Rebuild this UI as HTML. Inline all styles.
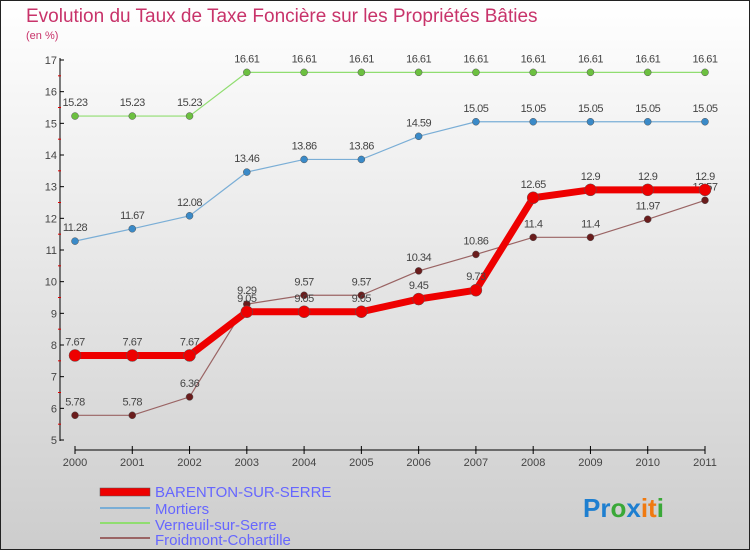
<!DOCTYPE html>
<html><head><meta charset="utf-8"><style>
body{margin:0}
#c{width:750px;height:550px;position:relative;overflow:hidden;font-family:"Liberation Sans",sans-serif}
svg text{font-family:"Liberation Sans",sans-serif}
</style></head><body>
<div id="c">
<svg id="s" width="750" height="550" xmlns="http://www.w3.org/2000/svg">
<defs><linearGradient id="bg" x1="0" y1="0" x2="0" y2="1"><stop offset="0" stop-color="#ffffff"/><stop offset="1" stop-color="#cdcdcd"/></linearGradient></defs>
<rect x="0.5" y="0.5" width="749" height="549" fill="url(#bg)" stroke="#222"/>
<text x="26" y="22" font-size="19" fill="#c8336a">Evolution du Taux de Taxe Foncière sur les Propriétés Bâties</text>
<text x="26" y="39" font-size="11" fill="#c8336a">(en %)</text>
<g id="axes"></g><g id="series"></g>
<g>
<rect x="100" y="488" width="50" height="8" fill="#e00" stroke="#555" stroke-width="0.5"/>
<text x="155" y="497" font-size="15" fill="#6666ff">BARENTON-SUR-SERRE</text>
<rect x="100" y="507" width="50" height="2" fill="#7aaed6"/>
<text x="155" y="514" font-size="15" fill="#6666ff">Mortiers</text>
<rect x="100" y="522" width="50" height="2" fill="#90dd70"/>
<text x="155" y="530" font-size="15" fill="#6666ff">Verneuil-sur-Serre</text>
<rect x="100" y="537" width="50" height="2" fill="#9a6464"/>
<text x="155" y="545" font-size="15" fill="#6666ff">Froidmont-Cohartille</text>
</g>
<text x="583" y="517" font-size="26" font-weight="bold"><tspan fill="#1e7fd0">Pr</tspan><tspan fill="#3aa838">o</tspan><tspan fill="#1e7fd0">x</tspan><tspan fill="#f07a10">it</tspan><tspan fill="#3aa838">i</tspan></text>
</svg></div>
<script>
const years=["2000","2001","2002","2003","2004","2005","2006","2007","2008","2009","2010","2011"];
const yTicks=[5,6,7,8,9,10,11,12,13,14,15,16,17];
const barenton=[7.67,7.67,7.67,9.05,9.05,9.05,9.45,9.73,12.65,12.9,12.9,12.9];
const mortiers=[11.28,11.67,12.08,13.46,13.86,13.86,14.59,15.05,15.05,15.05,15.05,15.05];
const verneuil=[15.23,15.23,15.23,16.61,16.61,16.61,16.61,16.61,16.61,16.61,16.61,16.61];
const froidmont=[5.78,5.78,6.36,9.29,9.57,9.57,10.34,10.86,11.4,11.4,11.97,12.57];
const NS="http://www.w3.org/2000/svg";
const X=i=>75+i*(630/11);
const Y=v=>440-(v-5)*(380/12);
function mk(t,a,p){const e=document.createElementNS(NS,t);for(const k in a)e.setAttribute(k,a[k]);p.appendChild(e);return e;}
const ax=document.getElementById('axes');
let l=mk('line',{x1:60,y1:58,x2:60,y2:441,stroke:'#000','stroke-width':1},ax);


yTicks.forEach(v=>{
  mk('line',{x1:60,y1:Y(v),x2:64,y2:Y(v),stroke:'#000'},ax);
  if(v<17)mk('line',{x1:58,y1:Y(v+0.5),x2:61,y2:Y(v+0.5),stroke:'#d00'},ax);
  const t=mk('text',{x:57,y:Y(v)+4,'font-size':11,fill:'#444','text-anchor':'end'},ax);
  t.textContent=v;
  
  
});
l=mk('line',{x1:75,y1:450,x2:705,y2:450,stroke:'#000'},ax);


years.forEach((y,i)=>{
  mk('line',{x1:X(i),y1:446,x2:X(i),y2:454,stroke:'#000'},ax);
  const t=mk('text',{x:X(i),y:466,'font-size':11,fill:'#444','text-anchor':'middle'},ax);
  t.textContent=y;
  
  
});
const sg=document.getElementById('series');
function series(data,name,color,dot,w,r){
  const g=mk('g',{},sg);
  
  
  const pl=mk('polyline',{points:data.map((v,i)=>X(i)+','+Y(v)).join(' '),fill:'none',stroke:color,'stroke-width':w},g);
  
  
  data.forEach((v,i)=>{
    const c=mk('circle',{cx:X(i),cy:Y(v),r:r,fill:dot,stroke:'#555','stroke-width':0.5},g);
    
    
    const t=mk('text',{x:X(i),y:Y(v)-10,'font-size':11,fill:'#444','text-anchor':'middle','letter-spacing':'-0.5'},g);
    t.textContent=String(v);
    
    
  });
}
series(verneuil,'verneuil','#90dd70','#6cc040',1.2,3.5);
series(mortiers,'mortiers','#7aaed6','#3a8ac8',1.2,3.5);
series(froidmont,'froidmont','#9a6464','#6a1c1c',1.2,3.5);
series(barenton,'barenton','#ee0000','#ee0000',7,6);
</script>
</body></html>
